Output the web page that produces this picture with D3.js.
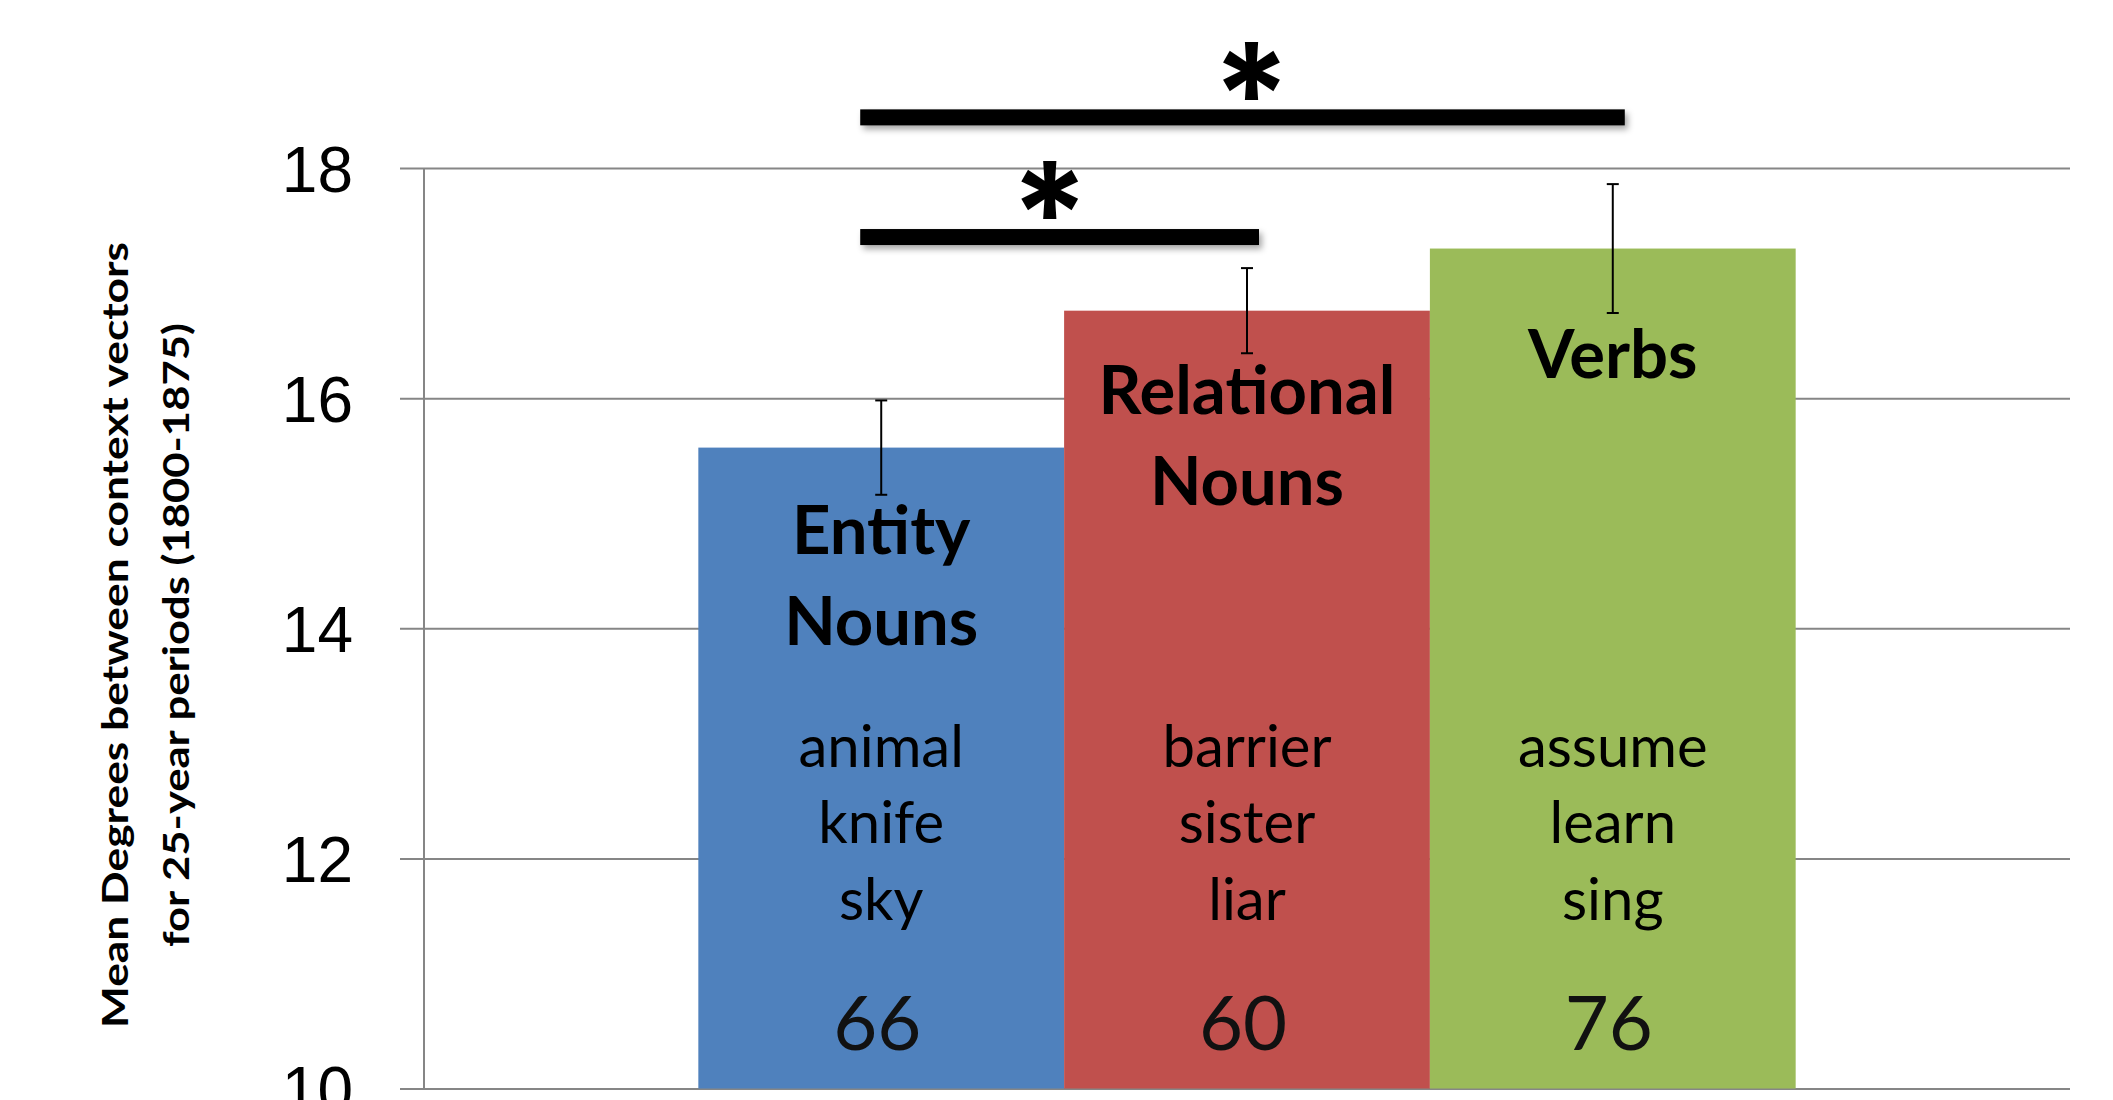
<!DOCTYPE html>
<html>
<head>
<meta charset="utf-8">
<script src="https://cdn.jsdelivr.net/npm/d3@7"></script>
<style>
  body { margin: 0; background: #fff; }
  svg { display: block; }
</style>
</head>
<body>
<svg></svg>
<script>
// chart values
var series = ["Entity Nouns", "Relational Nouns", "Verbs"];
var labelLines = [["Entity", "Nouns"], ["Relational", "Nouns"], ["Verbs"]];
var means = [15.57, 16.76, 17.30];
var errors = [0.41, 0.37, 0.56];
var exampleWords = [["animal", "knife", "sky"], ["barrier", "sister", "liar"], ["assume", "learn", "sing"]];
var counts = [66, 60, 76];
var yTicks = [10, 12, 14, 16, 18];
var colors = ["#4F81BD", "#C0504D", "#9BBB59"];
// significance brackets: which bars they join and the level they sit at
var comparisons = [
    {from: 0, to: 1, level: 17.40, mark: "*"},
    {from: 0, to: 2, level: 18.44, mark: "*"}
];

var width = 2113, height = 1100;
var plotLeft = 424, plotRight = 2070, plotTop = 168, plotBottom = 1088.5;
var gridStart = 400;
var font = "Lato, 'Open Sans', sans-serif";
var starFont = "Inter, 'DejaVu Sans', sans-serif";

var svg = d3.select("svg")
    .attr("width", width)
    .attr("height", height);

// shadow under the black significance bars
var defs = svg.append("defs");
defs.append("filter")
    .attr("id", "shadow")
    .attr("x", "-5%").attr("y", "-50%")
    .attr("width", "110%").attr("height", "250%")
  .append("feDropShadow")
    .attr("dx", 3).attr("dy", 4)
    .attr("stdDeviation", 3)
    .attr("flood-color", "#000")
    .attr("flood-opacity", 0.35);

var y = d3.scaleLinear().domain([10, 18]).range([plotBottom, plotTop]);

// one category holding three series, Excel style (gap width 50%)
var x0 = d3.scaleBand().domain(["all"]).range([plotLeft, plotRight]).paddingOuter(0.25);
var x1 = d3.scaleBand().domain(series).range([x0("all"), x0("all") + x0.bandwidth()]);
function cx(i) { return x1(series[i]) + x1.bandwidth() / 2; }

//Gridlines + tick labels
var yAxis = d3.axisLeft(y)
    .tickValues(yTicks)
    .tickSize(-(plotRight - gridStart))
    .tickPadding(47)
    .tickFormat(d3.format("d"));

var axisG = svg.append("g")
    .attr("transform", "translate(" + gridStart + ",0)")
    .call(yAxis);
axisG.select(".domain").remove();
axisG.selectAll(".tick line")
    .attr("stroke", "#868686")
    .attr("stroke-width", 2);
axisG.selectAll(".tick text")
    .attr("fill", "#000")
    .attr("dy", "0.36em")
    .style("font-family", "'Liberation Sans', Arial, sans-serif")
    .style("font-size", "64px");

svg.append("line")
    .attr("x1", plotLeft).attr("x2", plotLeft)
    .attr("y1", plotTop).attr("y2", plotBottom)
    .attr("stroke", "#868686")
    .attr("stroke-width", 2);

//Bars
svg.append("g").selectAll("rect")
    .data(means)
    .enter().append("rect")
    .attr("x", function(d, i) { return x1(series[i]); })
    .attr("y", function(d) { return y(d); })
    .attr("width", x1.bandwidth())
    .attr("height", function(d) { return plotBottom - y(d); })
    .attr("fill", function(d, i) { return colors[i]; });

//Error bars
var err = svg.append("g")
    .attr("stroke", "#000")
    .attr("stroke-width", 2)
    .selectAll("g")
    .data(means)
    .enter().append("g");
err.append("line")
    .attr("x1", function(d, i) { return cx(i); })
    .attr("x2", function(d, i) { return cx(i); })
    .attr("y1", function(d, i) { return y(d + errors[i]); })
    .attr("y2", function(d, i) { return y(d - errors[i]); });
[1, -1].forEach(function(sign) {
    err.append("line")
        .attr("x1", function(d, i) { return cx(i) - 6; })
        .attr("x2", function(d, i) { return cx(i) + 6; })
        .attr("y1", function(d, i) { return y(d + sign * errors[i]); })
        .attr("y2", function(d, i) { return y(d + sign * errors[i]); });
});

//Bar names, bold, under the top of each bar
var nameOffset = [106, 103, 129];
var labels = svg.append("g")
    .attr("text-anchor", "middle")
    .style("font-family", font)
    .style("font-weight", "bold")
    .style("font-size", "67px")
    .selectAll("text")
    .data(labelLines)
    .enter().append("text")
    .attr("x", function(d, i) { return cx(i); })
    .attr("y", function(d, i) { return y(means[i]) + nameOffset[i]; });
labels.selectAll("tspan")
    .data(function(d) { return d; })
    .enter().append("tspan")
    .attr("x", function() { return d3.select(this.parentNode).attr("x"); })
    .attr("dy", function(d, j) { return j === 0 ? 0 : 91; })
    .text(function(d) { return d; });

//Example words
var wordRows = [767, 843, 920];
svg.append("g")
    .attr("text-anchor", "middle")
    .style("font-family", font)
    .style("font-size", "58px")
    .selectAll("g")
    .data(exampleWords)
    .enter().append("g")
    .each(function(words, i) {
        d3.select(this).selectAll("text")
            .data(words)
            .enter().append("text")
            .attr("x", cx(i))
            .attr("y", function(d, j) { return wordRows[j]; })
            .text(function(d) { return d; });
    });

//Word counts
svg.append("g")
    .attr("text-anchor", "middle")
    .style("font-family", font)
    .style("font-size", "76px")
    .selectAll("text")
    .data(counts)
    .enter().append("text")
    .attr("x", function(d, i) { return cx(i) - 4; })
    .attr("y", 1050)
    .attr("fill", "#111")
    .text(function(d) { return d; });

//Significance bars
var sig = svg.append("g").selectAll("g")
    .data(comparisons)
    .enter().append("g");
sig.append("rect")
    .attr("x", function(d) { return cx(d.from) - 21; })
    .attr("y", function(d) { return y(d.level) - 8; })
    .attr("width", function(d) { return cx(d.to) + 12 - (cx(d.from) - 21); })
    .attr("height", 16)
    .attr("fill", "#000")
    .attr("filter", "url(#shadow)");

// size the star from its ink box so it stands 58px tall, 10px above its bar
var ctx = document.createElement("canvas").getContext("2d");
ctx.font = "bold 100px " + starFont;
var m = ctx.measureText("*");
var inkH = m.actualBoundingBoxAscent + m.actualBoundingBoxDescent;
var starScale = 58 / inkH;
var starShift = [-15, 4];
sig.append("text")
    .attr("x", function(d, i) {
        var mid = (cx(d.from) + cx(d.to)) / 2 + starShift[i];
        return mid - (m.actualBoundingBoxRight - m.actualBoundingBoxLeft) / 2 * starScale;
    })
    .attr("y", function(d) {
        return y(d.level) - 8 - 10 - m.actualBoundingBoxDescent * starScale;
    })
    .style("font-family", starFont)
    .style("font-weight", "bold")
    .style("font-size", (100 * starScale) + "px")
    .text(function(d) { return d.mark; });

//Y axis title, two lines
var title = svg.append("text")
    .attr("transform", "translate(0," + 635 + ") rotate(-90)")
    .attr("text-anchor", "middle")
    .style("font-family", font)
    .style("font-weight", "bold")
    .style("font-size", "37px");
title.append("tspan")
    .attr("x", 0).attr("y", 128)
    .attr("textLength", 786)
    .attr("lengthAdjust", "spacingAndGlyphs")
    .text("Mean Degrees between context vectors");
title.append("tspan")
    .attr("x", 0).attr("y", 189)
    .attr("textLength", 624)
    .attr("lengthAdjust", "spacingAndGlyphs")
    .text("for 25-year periods (1800-1875)");
</script>
</body>
</html>
